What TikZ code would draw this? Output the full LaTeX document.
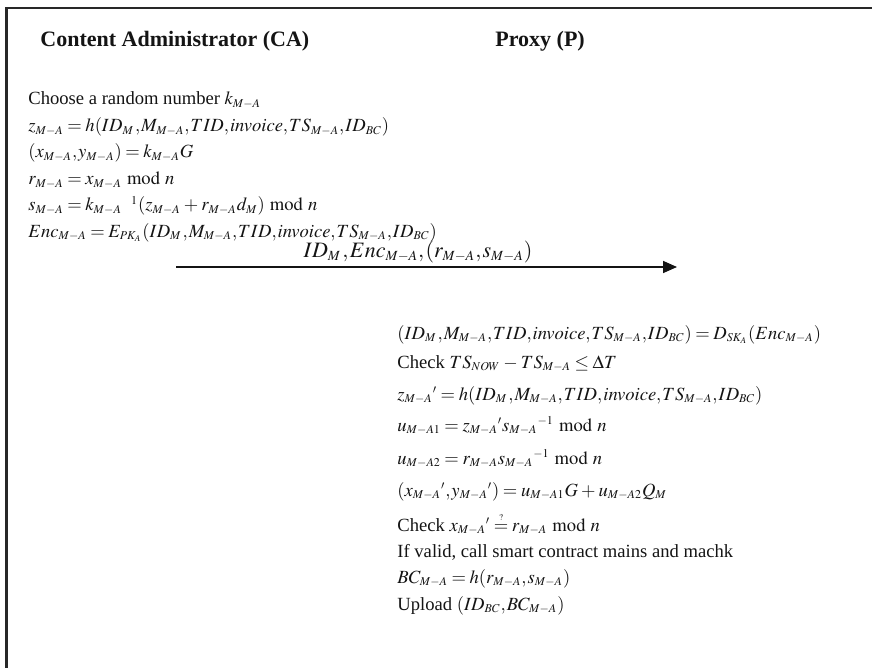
\documentclass[tikz,border=0pt]{standalone}
\usepackage{amsmath}
\usepackage{mathptmx}
\usepackage[no-math]{fontspec}
\setmainfont{Liberation Serif}
\usetikzlibrary{positioning,arrows.meta}
\DeclareMathSizes{9.3}{9.3}{6}{4.5}
\DeclareMathSizes{11}{11}{7}{5}
\thinmuskip=1mu
\medmuskip=3mu plus 1mu minus 1mu
\thickmuskip=3.5mu plus 2mu
\definecolor{ink}{RGB}{20,20,20}
\definecolor{frame}{RGB}{40,40,40}
\tikzset{
  head/.style={anchor=base west, inner sep=0pt, font=\fontsize{11}{13}\selectfont\bfseries, text=ink},
  eqline/.style={anchor=base west, inner sep=0pt, font=\fontsize{9.3}{11}\selectfont, text=ink},
  msglbl/.style={anchor=base, inner sep=0pt, font=\fontsize{11}{13}\selectfont, text=ink},
  arr/.style={-{Triangle[length=7pt,width=6pt]}, line width=0.8pt, draw=ink},
  framelines/.style={line width=1.3pt, draw=frame},
}

\begin{document}
\begin{tikzpicture}[x=0.5pt, y=-0.5pt]
  \useasboundingbox (0,0) rectangle (872,668);
  \draw[framelines] (880,8) -| (6.5,680);

  % parties
  \node[head] (ca) at (40,47) {Content Administrator (CA)};
  \node[head] (proxy) at (495,47) {Proxy (P)};

  % content administrator side
  \node[eqline] (ca1) at (28,105) {Choose a random number $k_{M-A}$};
  \node[eqline] (ca2) at (28,132) {$z_{M-A}=h(ID_M\,,M_{M-A},TID,invoice,TS_{M-A},ID_{BC})$};
  \node[eqline] (ca3) at (28,158) {$(x_{M-A},y_{M-A})=k_{M-A}G$};
  \node[eqline] (ca4) at (28,185) {$r_{M-A}=x_{M-A}\bmod n$};
  \node[eqline] (ca5) at (28,211) {$s_{M-A}=k_{M-A}{}^{\phantom{-}1}(z_{M-A}+r_{M-A}d_M)\bmod n$};
  \node[eqline] (ca6) at (28,237) {$Enc_{M-A}=E_{PK_A}(ID_M\,,M_{M-A},TID,invoice,TS_{M-A},ID_{BC})$};

  % message
  \coordinate (msgA) at (176,267);
  \coordinate (msgB) at (677,267);
  \draw[arr] (msgA) -- (msgB);
  \node[msglbl] (msg) at (418,257) {$ID_M\,,Enc_{M-A},(r_{M-A},s_{M-A})$};

  % proxy side
  \node[eqline] (p1) at (397,339) {$(ID_M\,,M_{M-A},TID,invoice,TS_{M-A},ID_{BC})=D_{SK_A}(Enc_{M-A})$};
  \node[eqline] (p2) at (397,368) {Check $TS_{NOW}-TS_{M-A}\le\Delta T$};
  \node[eqline] (p3) at (397,400) {${z_{M-A}}'=h(ID_M\,,M_{M-A},TID,invoice,TS_{M-A},ID_{BC})$};
  \node[eqline] (p4) at (397,431) {$u_{M-A1}={z_{M-A}}'{s_{M-A}}^{-1}\bmod n$};
  \node[eqline] (p5) at (397,464) {$u_{M-A2}=r_{M-A}{s_{M-A}}^{-1}\bmod n$};
  \node[eqline] (p6) at (397,496) {$({x_{M-A}}',{y_{M-A}}')=u_{M-A1}G+u_{M-A2}Q_M$};
  \node[eqline] (p7) at (397,531) {Check ${x_{M-A}}'\overset{\scriptscriptstyle ?}{=}r_{M-A}\bmod n$};
  \node[eqline] (p8) at (397,557) {If valid, call smart contract mains and machk};
  \node[eqline] (p9) at (397,583) {$BC_{M-A}=h(r_{M-A},s_{M-A})$};
  \node[eqline] (p10) at (397,610) {Upload $(ID_{BC},BC_{M-A})$};
\end{tikzpicture}
\end{document}
